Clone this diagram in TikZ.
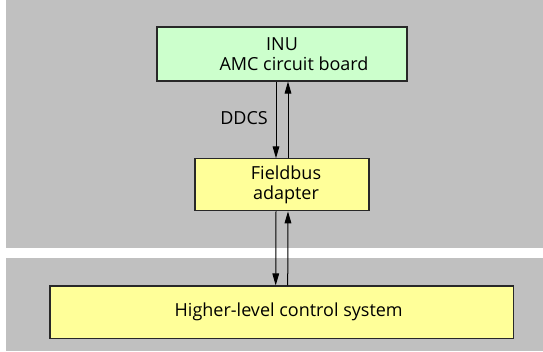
\documentclass[tikz,border=0pt]{standalone}
\usepackage{fontspec}
\setmainfont{Open Sans}
\usepackage{tikz}
\usetikzlibrary{arrows.meta, positioning}
\definecolor{bggray}{RGB}{192,192,192}
\definecolor{greencolor}{RGB}{204,255,204}
\definecolor{yellowcolor}{RGB}{255,255,153}
\definecolor{edgecolor}{RGB}{40,40,40}

\begin{document}
\begin{tikzpicture}[x=0.75pt, y=-0.75pt, >={Triangle[length=9pt, width=5pt]},
  box/.style={draw=edgecolor, line width=0.8pt, inner sep=0pt, align=center,
    font=\fontsize{13.5}{15.5}\selectfont},
  link/.style={->, line width=0.75pt, black}]

% Canvas
\useasboundingbox (0,0) rectangle (543,351);
\fill[white] (0,0) rectangle (543,351);

% Gray areas
\fill[bggray] (5.5,0) rectangle (543,248);
\fill[bggray] (5.5,258) rectangle (543,351);

% Boxes
\node[box, fill=greencolor, minimum width=187.5pt, minimum height=40.5pt] (inu) at (282,54)
  {INU\\\hspace*{18pt}AMC circuit board};
\node[box, fill=yellowcolor, minimum width=130.5pt, minimum height=39pt] (fba) at (282,184.8)
  {\hspace*{6pt}Fieldbus\\\hspace*{6pt}adapter};
\node[box, fill=yellowcolor, minimum width=347.6pt, minimum height=39.5pt] (hlc) at (281.7,312.3)
  {\hspace*{10.5pt}Higher-level control system};

% DDCS link
\draw[link] ([xshift=-4.5pt]inu.south) -- ([xshift=-4.5pt]fba.north);
\draw[link] ([xshift=4.5pt]fba.north) -- ([xshift=4.5pt]inu.south);
\node[font=\fontsize{13.5}{15}\selectfont] (ddcs) at (244,117.7) {DDCS};

% Fieldbus link
\draw[link] ([xshift=-4.5pt]fba.south) -- ([xshift=-4.5pt]hlc.north);
\draw[link] ([xshift=4.5pt]hlc.north) -- ([xshift=4.5pt]fba.south);

\end{tikzpicture}
\end{document}
